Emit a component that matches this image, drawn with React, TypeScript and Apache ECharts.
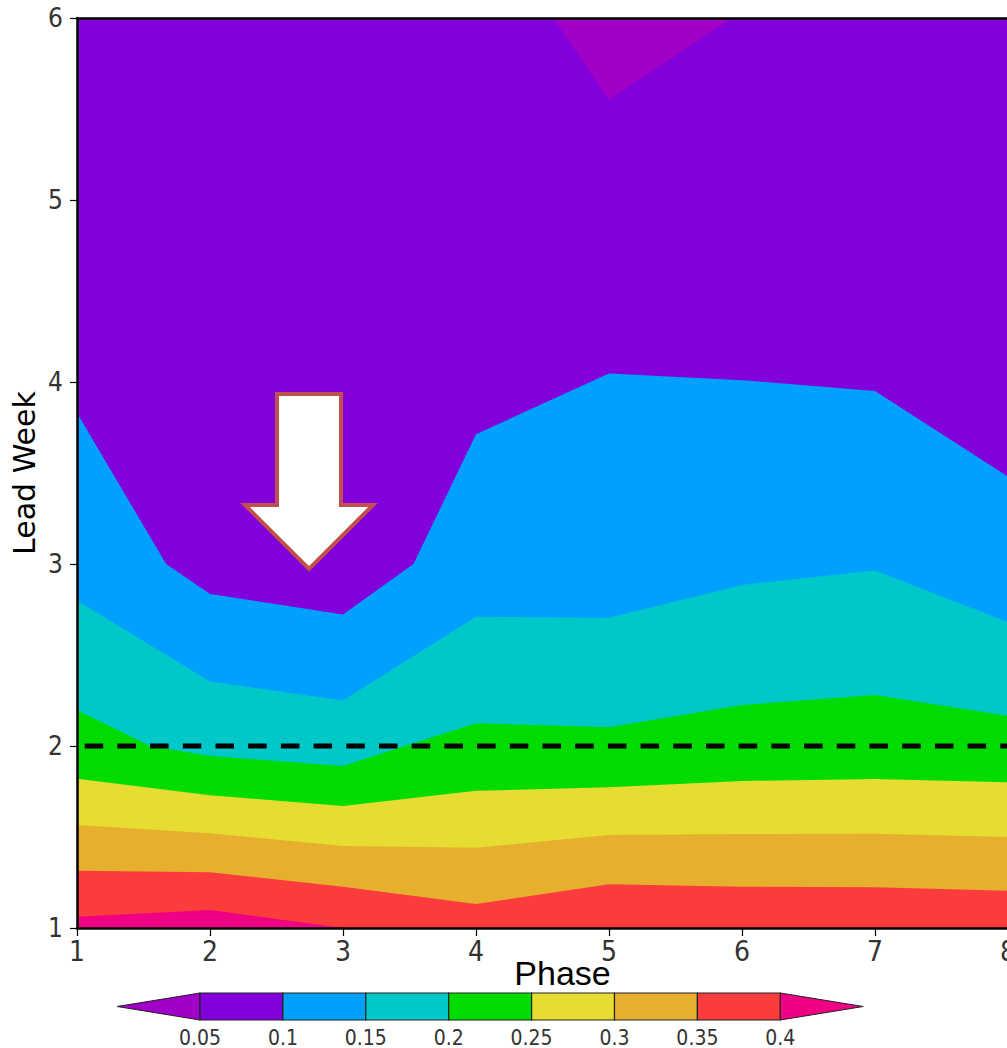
import React, { useEffect, useRef } from "react";
import * as echarts from "echarts";

// ---------- data ----------
const phaseTicks = [1, 2, 3, 4, 5, 6, 7, 8];
const leadWeekTicks = [1, 2, 3, 4, 5, 6];
const levelLabels = ["0.05", "0.1", "0.15", "0.2", "0.25", "0.3", "0.35", "0.4"];
// band colours: <0.05, 0.05-0.1, 0.1-0.15, ..., 0.35-0.4, >0.4
const bandColors = [
  "#A000C8",
  "#8200DC",
  "#00A0FF",
  "#00C8C8",
  "#00DC00",
  "#E6DC32",
  "#E6AF2D",
  "#FA3C3C",
  "#F00082",
];

// contour lines [phase, lead week]
const contour005: [number, number][] = [[4.58, 6], [5, 5.55], [5.93, 6]];
const contour010: [number, number][] = [
  [1, 3.83], [1.67, 3.0], [2, 2.835], [3, 2.723], [3.53, 3.0], [4, 3.713],
  [5, 4.047], [6, 4.01], [7, 3.95], [8, 3.48],
];
const contour015: [number, number][] = [
  [1, 2.8], [2, 2.355], [3, 2.25], [4, 2.71], [5, 2.705], [6, 2.885], [7, 2.964], [8, 2.68],
];
const contour020: [number, number][] = [
  [1, 2.198], [1.55, 2.0], [2, 1.945], [3, 1.89], [4, 2.125], [5, 2.103], [6, 2.225], [7, 2.28], [8, 2.166],
];
const contour025: [number, number][] = [
  [1, 1.82], [2, 1.73], [3, 1.67], [4, 1.754], [5, 1.773], [6, 1.808], [7, 1.819], [8, 1.8],
];
const contour030: [number, number][] = [
  [1, 1.566], [2, 1.52], [3, 1.45], [4, 1.441], [5, 1.511], [6, 1.516], [7, 1.518], [8, 1.5],
];
const contour035: [number, number][] = [
  [1, 1.315], [2, 1.306], [3, 1.227], [4, 1.132], [5, 1.24], [6, 1.227], [7, 1.224], [8, 1.205],
];
const contour040: [number, number][] = [[1, 1.062], [2, 1.099], [3, 1.0]];
const referenceLeadWeek = 2;

// ---------- styling ----------
const narrowFont = "'Liberation Sans Narrow', 'DejaVu Sans Condensed', 'Liberation Sans', sans-serif";
const frameLine = { show: true, onZero: false, lineStyle: { color: "#000", width: 2.5 } };

export default function App() {
  const ref = useRef<HTMLDivElement>(null);

  useEffect(() => {
    if (!ref.current) return;
    const chart = echarts.init(ref.current, null, { renderer: "svg" });

    const fills: { data: [number, number][]; color: string; origin: string }[] = [
      { data: contour010, color: bandColors[2], origin: "start" },
      { data: contour015, color: bandColors[3], origin: "start" },
      { data: contour020, color: bandColors[4], origin: "start" },
      { data: contour025, color: bandColors[5], origin: "start" },
      { data: contour030, color: bandColors[6], origin: "start" },
      { data: contour035, color: bandColors[7], origin: "start" },
      { data: contour040, color: bandColors[8], origin: "start" },
      { data: contour005, color: bandColors[0], origin: "end" },
    ];

    const series: any[] = fills.map((f) => ({
      type: "line",
      data: f.data,
      symbol: "none",
      silent: true,
      lineStyle: { width: 0, color: f.color },
      areaStyle: { color: f.color, opacity: 1, origin: f.origin },
    }));
    series.push({
      type: "line",
      data: [[phaseTicks[0], referenceLeadWeek], [phaseTicks[phaseTicks.length - 1], referenceLeadWeek]],
      symbol: "none",
      silent: true,
      z: 5,
      lineStyle: { color: "#000", width: 5, type: [18.5, 14.2], dashOffset: 24.7 },
    });

    // colour bar (legend)
    const cbLeft = 200;
    const cbTop = 993;
    const cbH = 27;
    const cellW = 82.9;
    const nCells = levelLabels.length - 1;
    const cb: any[] = [];
    cb.push({
      type: "polygon",
      shape: { points: [[cbLeft, cbTop], [cbLeft, cbTop + cbH], [cbLeft - cellW, cbTop + cbH / 2]] },
      style: { fill: bandColors[0], stroke: "#222", lineWidth: 1 },
    });
    for (let i = 0; i < nCells; i++) {
      cb.push({
        type: "rect",
        shape: { x: cbLeft + i * cellW, y: cbTop, width: cellW, height: cbH },
        style: { fill: bandColors[i + 1], stroke: "#222", lineWidth: 1.2 },
      });
    }
    const cbRight = cbLeft + nCells * cellW;
    cb.push({
      type: "polygon",
      shape: { points: [[cbRight, cbTop], [cbRight, cbTop + cbH], [cbRight + cellW, cbTop + cbH / 2]] },
      style: { fill: bandColors[8], stroke: "#222", lineWidth: 1 },
    });
    levelLabels.forEach((t, i) => {
      cb.push({
        type: "text",
        x: cbLeft + i * cellW,
        y: 1037.5,
        style: {
          text: t,
          fontSize: 21,
          fontFamily: narrowFont,
          fill: "#333",
          align: "center",
          verticalAlign: "middle",
        },
      });
    });

    // annotation arrow
    const arrow = {
      type: "polygon",
      z: 100,
      shape: {
        points: [
          [277, 394], [341, 394], [341, 505], [373, 505], [309, 569], [245, 505], [277, 505],
        ],
      },
      style: { fill: "#FFFFFF", stroke: "#C0504D", lineWidth: 4, lineJoin: "miter" },
    };

    chart.setOption({
      animation: false,
      backgroundColor: "#FFFFFF",
      grid: {
        left: 77,
        right: 92,
        top: 18,
        bottom: 120,
        show: true,
        backgroundColor: bandColors[1],
        borderWidth: 0,
      },
      xAxis: [
        {
          type: "value",
          min: phaseTicks[0],
          max: phaseTicks[phaseTicks.length - 1],
          interval: 1,
          position: "bottom",
          z: 10,
          axisLine: frameLine,
          axisTick: { show: true, length: 8, lineStyle: { color: "#000", width: 1.2 } },
          axisLabel: { fontSize: 28, fontFamily: narrowFont, color: "#333", margin: 9 },
          splitLine: { show: false },
          name: "Phase",
          nameLocation: "middle",
          nameGap: 28,
          nameMoveOverlap: false,
          nameTextStyle: {
            fontSize: 34,
            fontFamily: "'Liberation Sans', sans-serif",
            color: "#000",
            padding: [0, 0, 0, 40],
          },
        },
        {
          type: "value",
          min: phaseTicks[0],
          max: phaseTicks[phaseTicks.length - 1],
          position: "top",
          z: 10,
          axisLine: frameLine,
          axisTick: { show: false },
          axisLabel: { show: false },
          splitLine: { show: false },
        },
      ],
      yAxis: [
        {
          type: "value",
          min: leadWeekTicks[0],
          max: leadWeekTicks[leadWeekTicks.length - 1],
          interval: 1,
          position: "left",
          z: 10,
          axisLine: frameLine,
          axisTick: { show: true, length: 7, lineStyle: { color: "#000", width: 1.2 } },
          axisLabel: { fontSize: 26, fontFamily: narrowFont, color: "#333", margin: 14 },
          splitLine: { show: false },
          name: "Lead Week",
          nameLocation: "middle",
          nameGap: 38,
          nameRotate: 90,
          nameMoveOverlap: false,
          nameTextStyle: { fontSize: 30, fontFamily: "'DejaVu Sans', sans-serif", color: "#000" },
        },
        {
          type: "value",
          min: leadWeekTicks[0],
          max: leadWeekTicks[leadWeekTicks.length - 1],
          position: "right",
          z: 10,
          axisLine: frameLine,
          axisTick: { show: false },
          axisLabel: { show: false },
          splitLine: { show: false },
        },
      ],
      series,
      graphic: [...cb, arrow],
    });

    return () => chart.dispose();
  }, []);

  return (
    <div
      style={{
        position: "fixed",
        left: 0,
        top: 0,
        width: 1007,
        height: 1048,
        overflow: "hidden",
        background: "#fff",
      }}
    >
      <div ref={ref} style={{ width: 1100, height: 1048 }} />
    </div>
  );
}
